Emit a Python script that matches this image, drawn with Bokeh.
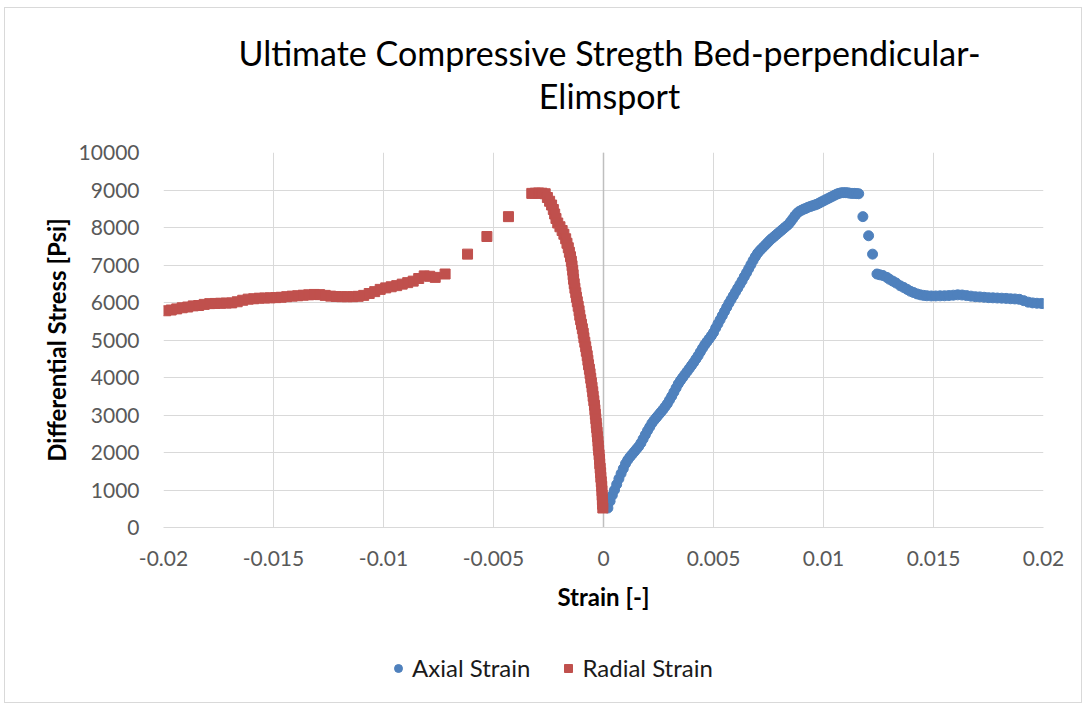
from bokeh.plotting import figure
from bokeh.layouts import column
from bokeh.models import Range1d, FixedTicker, Legend, LegendItem, Span
from bokeh.core.properties import value
from bokeh.embed import file_html
from bokeh.resources import INLINE

# Axial strain readings (strain [-], differential stress [psi])
axial_strain = [
    0.0002, 0.0003, 0.0004, 0.0005, 0.0006, 0.0007, 0.0008, 0.0009, 0.0010, 0.0011,
    0.0012, 0.0013, 0.0014, 0.0015, 0.0016, 0.0017, 0.0018, 0.0019, 0.0020, 0.0021,
    0.0022, 0.0023, 0.0024, 0.0025, 0.0026, 0.0027, 0.0028, 0.0029, 0.0030, 0.0031,
    0.0032, 0.0033, 0.0034, 0.0035, 0.0036, 0.0037, 0.0038, 0.0039, 0.0040, 0.0041,
    0.0042, 0.0043, 0.0044, 0.0045, 0.0046, 0.0047, 0.0048, 0.0049, 0.0050, 0.0051,
    0.0052, 0.0053, 0.0054, 0.0055, 0.0056, 0.0057, 0.0058, 0.0059, 0.0060, 0.0061,
    0.0062, 0.0063, 0.0064, 0.0065, 0.0066, 0.0067, 0.0068, 0.0069, 0.0070, 0.0071,
    0.0072, 0.0073, 0.0074, 0.0075, 0.0076, 0.0077, 0.0078, 0.0079, 0.0080, 0.0081,
    0.0082, 0.0083, 0.0084, 0.0085, 0.0086, 0.0087, 0.0088, 0.0089, 0.0090, 0.0091,
    0.0092, 0.0093, 0.0094, 0.0095, 0.0096, 0.0097, 0.0098, 0.0099, 0.0100, 0.0101,
    0.0102, 0.0103, 0.0104, 0.0105, 0.0106, 0.0107, 0.0108, 0.0109, 0.0110, 0.0111,
    0.0112, 0.0113, 0.0114, 0.0115, 0.0116,
    0.01179, 0.01205, 0.01223, 0.01243,
    0.01255, 0.01270, 0.01288, 0.01300, 0.01315, 0.01330, 0.01349, 0.01365, 0.01380, 0.01395,
    0.01409, 0.01425, 0.01440, 0.01455, 0.01470, 0.01490, 0.01510, 0.01530, 0.01550, 0.01570,
    0.01590, 0.01610, 0.01630, 0.01650, 0.01670, 0.01690, 0.01710, 0.01730, 0.01750, 0.01770,
    0.01790, 0.01810, 0.01830, 0.01850, 0.01870, 0.01890, 0.01910, 0.01930, 0.01950, 0.01970,
    0.01990, 0.02000,
]
axial_stress = [
    520, 700, 860, 1000, 1150, 1300, 1440, 1570, 1700, 1800,
    1880, 1950, 2020, 2090, 2160, 2250, 2360, 2470, 2580, 2680,
    2780, 2860, 2930, 3000, 3070, 3140, 3220, 3300, 3400, 3500,
    3610, 3720, 3830, 3920, 4000, 4080, 4160, 4240, 4320, 4400,
    4490, 4580, 4680, 4780, 4870, 4950, 5030, 5110, 5200, 5320,
    5430, 5540, 5650, 5760, 5870, 5980, 6080, 6180, 6280, 6380,
    6480, 6580, 6690, 6790, 6900, 7010, 7120, 7220, 7310, 7380,
    7440, 7500, 7560, 7620, 7680, 7730, 7780, 7830, 7880, 7930,
    7980, 8030, 8080, 8150, 8230, 8310, 8380, 8430, 8460, 8490,
    8510, 8540, 8560, 8580, 8600, 8620, 8650, 8680, 8710, 8740,
    8770, 8800, 8830, 8860, 8890, 8910, 8925, 8930, 8930, 8925,
    8915, 8910, 8910, 8905, 8900,
    8290, 7780, 7290, 6760,
    6740, 6720, 6670, 6620, 6570, 6520, 6445, 6400, 6350, 6300,
    6267, 6230, 6205, 6190, 6180, 6175, 6175, 6178, 6180, 6185,
    6195, 6205, 6200, 6185, 6170, 6155, 6150, 6140, 6130, 6125,
    6120, 6115, 6110, 6100, 6095, 6085, 6050, 6010, 5990, 5980,
    5975, 5970,
]

# Radial strain readings (strain [-], differential stress [psi])
radial_strain = [
    -0.01990, -0.01965, -0.01940, -0.01915, -0.01890, -0.01865, -0.01840, -0.01815, -0.01790, -0.01765,
    -0.01740, -0.01715, -0.01690, -0.01665, -0.01640, -0.01615, -0.01590, -0.01565, -0.01540, -0.01515,
    -0.01490, -0.01465, -0.01440, -0.01415, -0.01390, -0.01365, -0.01340, -0.01315, -0.01290, -0.01265,
    -0.01240, -0.01215, -0.01190, -0.01165, -0.01140, -0.01115, -0.01090, -0.01065, -0.01040, -0.01015,
    -0.00990, -0.00965, -0.00940, -0.00915, -0.00890, -0.00865, -0.00840, -0.00815, -0.00790, -0.00765,
    -0.00720,
    -0.00618, -0.00530, -0.00432,
    -0.00326, -0.00310, -0.00295, -0.00280, -0.00265,
    -0.00255, -0.00245, -0.00236, -0.00228, -0.00222, -0.00216, -0.00208, -0.00198, -0.00188, -0.00180,
    -0.00172, -0.00166, -0.00160, -0.00155, -0.00150, -0.00146, -0.00143, -0.00140, -0.00138, -0.00136,
    -0.00133, -0.00130, -0.00126, -0.00123, -0.00119, -0.00115, -0.00111, -0.00108, -0.00104, -0.00100,
    -0.00096, -0.00092, -0.00089, -0.00085, -0.00081, -0.00078, -0.00074, -0.00071, -0.00068, -0.00064,
    -0.00061, -0.00058, -0.00055, -0.00052, -0.00049, -0.00047, -0.00044, -0.00041, -0.00039, -0.00037,
    -0.00035, -0.00033, -0.00031, -0.00029, -0.00027, -0.00025, -0.00024, -0.00022, -0.00020, -0.00018,
    -0.00017, -0.00015, -0.00013, -0.00012, -0.00010, -0.00008, -0.00007, -0.00006, -0.00005, -0.00004,
    -0.00003,
]
radial_stress = [
    5780, 5800, 5830, 5860, 5880, 5910, 5920, 5950, 5970, 5975,
    5980, 5985, 5990, 6020, 6060, 6090, 6100, 6115, 6120, 6125,
    6130, 6140, 6155, 6170, 6180, 6195, 6205, 6215, 6210, 6190,
    6170, 6160, 6155, 6155, 6155, 6165, 6190, 6240, 6290, 6350,
    6390, 6420, 6450, 6490, 6530, 6570, 6640, 6710, 6700, 6670,
    6760,
    7290, 7760, 8290,
    8910, 8915, 8920, 8915, 8900,
    8800, 8700, 8600, 8480, 8360, 8240, 8120, 8020, 7920, 7820,
    7700, 7580, 7460, 7340, 7220, 7100, 6980, 6860, 6740, 6620,
    6500, 6380, 6260, 6140, 6020, 5900, 5780, 5660, 5540, 5420,
    5300, 5180, 5060, 4940, 4820, 4700, 4580, 4460, 4340, 4220,
    4100, 3980, 3860, 3740, 3620, 3500, 3380, 3260, 3140, 3020,
    2900, 2780, 2660, 2540, 2420, 2300, 2180, 2060, 1940, 1820,
    1700, 1580, 1460, 1340, 1220, 1100, 980, 860, 740, 620,
    520,
]

x_ticks = [-0.02, -0.015, -0.01, -0.005, 0, 0.005, 0.01, 0.015, 0.02]
x_tick_labels = ["-0.02", "-0.015", "-0.01", "-0.005", "0", "0.005", "0.01", "0.015", "0.02"]
y_ticks = [0, 1000, 2000, 3000, 4000, 5000, 6000, 7000, 8000, 9000, 10000]
title_lines = ["Ultimate Compressive Stregth Bed-perpendicular-", "Elimsport"]
series_names = ["Axial Strain", "Radial Strain"]

FONT = "Lato"
GRID = "#d9d9d9"
BLUE = "#4f81bd"
RED = "#c0504d"
FW = 880            # shared frame width of all three stacked figures
BL, BR = 158, 38    # shared left / right borders

# --- title strip: pixel ranges over the shared frame (y grows downward) ---
TH = 124
head = figure(frame_width=FW, height=TH, x_range=Range1d(0, FW), y_range=Range1d(TH, 0),
              x_axis_type=None, y_axis_type=None, output_backend="svg",
              toolbar_location=None, title=None,
              min_border_left=BL, min_border_right=BR, min_border_top=0, min_border_bottom=0)
head.outline_line_color = None
head.grid.visible = False
head.text(x=[446, 446], y=[44, 87], text=title_lines,
          text_font=value(FONT), text_font_size="34px", text_color="#000000",
          text_align="center", text_baseline="alphabetic")

# --- main chart ---
p = figure(
    frame_width=FW, frame_height=375,
    x_range=Range1d(-0.02, 0.02), y_range=Range1d(0, 10000),
    output_backend="svg", toolbar_location=None, title=None,
    min_border_left=BL, min_border_right=BR,
    min_border_top=20, min_border_bottom=95,
)
p.outline_line_color = None

p.xaxis.ticker = FixedTicker(ticks=x_ticks)
p.xaxis.major_label_overrides = dict(zip(x_ticks, x_tick_labels))
p.yaxis.ticker = FixedTicker(ticks=y_ticks)
for ax in (p.xaxis, p.yaxis):
    ax.major_tick_line_color = None
    ax.minor_tick_line_color = None
    ax.major_label_text_font = FONT
    ax.major_label_text_font_size = "21px"
    ax.major_label_text_color = "#595959"
    ax.axis_label_text_font = FONT
    ax.axis_label_text_font_size = "24px"
    ax.axis_label_text_font_style = "bold"
    ax.axis_label_text_color = "#000000"
p.xaxis.axis_line_color = GRID
p.yaxis.axis_line_color = None
p.xaxis.major_label_standoff = 17
p.yaxis.major_label_standoff = 18
p.xaxis.axis_label = "Strain [-]"
p.yaxis.axis_label = "Differential Stress [Psi]"
p.xaxis.axis_label_standoff = 13
p.yaxis.axis_label_standoff = 5

p.xgrid.ticker = FixedTicker(ticks=x_ticks)
p.ygrid.ticker = FixedTicker(ticks=y_ticks)
p.grid.grid_line_color = GRID
p.grid.grid_line_width = 1

# vertical axis line crossing at zero strain
p.add_layout(Span(location=0, dimension="height", line_color="#bfbfbf",
                  line_width=1.5, level="underlay"))

p.scatter(axial_strain, axial_stress, marker="circle", size=10,
          fill_color=BLUE, line_color=BLUE)
p.scatter(radial_strain, radial_stress, marker="square", size=10,
          fill_color=RED, line_color=RED)

# --- legend strip ---
LH = 80
foot = figure(frame_width=FW, height=LH, x_range=Range1d(0, 1), y_range=Range1d(0, 1),
              x_axis_type=None, y_axis_type=None, output_backend="svg",
              toolbar_location=None, title=None,
              min_border_left=BL, min_border_right=BR, min_border_top=0, min_border_bottom=0)
foot.outline_line_color = None
foot.grid.visible = False
# key glyphs: one point each, kept outside the visible range
key_axial = foot.scatter([-1], [-1], marker="circle", size=14, fill_color=BLUE, line_color=BLUE)
key_radial = foot.scatter([-1], [-1], marker="square", size=14, fill_color=RED, line_color=RED)
legend = Legend(items=[LegendItem(label=series_names[0], renderers=[key_axial]),
                       LegendItem(label=series_names[1], renderers=[key_radial])],
                orientation="horizontal", location=(225, 20))
legend.border_line_color = None
legend.background_fill_alpha = 0
legend.label_text_font = FONT
legend.label_text_font_size = "24px"
legend.label_text_color = "#1a1a1a"
legend.glyph_width = 20
legend.glyph_height = 20
legend.spacing = 28
legend.label_standoff = 4
legend.padding = 8
legend.margin = 0
foot.add_layout(legend, "center")

layout = column(head, p, foot, spacing=0,
                styles={"margin-left": "4px", "margin-top": "7px",
                        "border": "1px solid #d9d9d9"})

open("out.html", "w").write(file_html(layout, INLINE))
